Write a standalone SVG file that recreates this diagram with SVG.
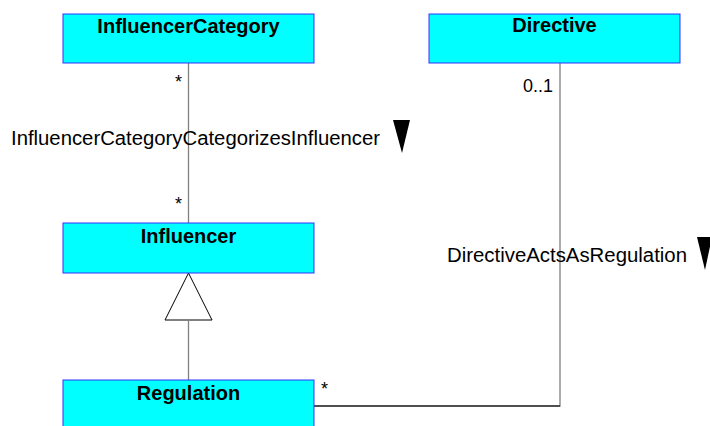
<svg xmlns="http://www.w3.org/2000/svg" width="710" height="426" viewBox="0 0 710 426">
<style>
.box{fill:#00ffff;stroke:#3333ff;stroke-width:1}
.title{font-family:"Liberation Sans",Arial,sans-serif;font-weight:bold;font-size:20px;text-anchor:middle;fill:#000}
.lbl{font-family:"Liberation Sans",Arial,sans-serif;font-size:20px;fill:#000}
.mult{font-family:"Liberation Sans",Arial,sans-serif;font-size:18px;fill:#000}
.ln{stroke:#808080;stroke-width:1.3;fill:none}
</style>
<rect width="710" height="426" fill="#fff"/>
<g id="connectors">
<line class="ln" x1="188.5" y1="63" x2="188.5" y2="223"/>
<polygon points="188.5,273 165,320 212,320" fill="#fff" stroke="#000" stroke-width="1"/>
<line class="ln" x1="188.5" y1="320" x2="188.5" y2="380"/>
<polyline class="ln" points="560,63 560,406 314,406"/>
<line x1="314" y1="406" x2="560" y2="406" stroke="#000" stroke-width="1"/>
<text class="lbl" x="11" y="145" textLength="369" lengthAdjust="spacingAndGlyphs">InfluencerCategoryCategorizesInfluencer</text>
<polygon points="393,120 410,120 402,153" fill="#000"/>
<text class="lbl" x="447" y="262" textLength="240" lengthAdjust="spacingAndGlyphs">DirectiveActsAsRegulation</text>
<polygon points="697,237 712,237 705,270" fill="#000"/>
<text class="mult" x="175" y="88">*</text>
<text class="mult" x="175" y="210">*</text>
<text class="mult" x="553" y="92" text-anchor="end" font-size="20">0..1</text>
<text class="mult" x="321" y="395">*</text>
</g>
<g id="InfluencerCategory">
<rect class="box" x="63" y="14" width="251" height="49"/>
<text class="title" x="188.5" y="33">InfluencerCategory</text>
</g>
<g id="Directive">
<rect class="box" x="429" y="14" width="251" height="49"/>
<text class="title" x="554.5" y="32">Directive</text>
</g>
<g id="Influencer">
<rect class="box" x="63" y="223" width="251" height="50"/>
<text class="title" x="188.5" y="243">Influencer</text>
</g>
<g id="Regulation">
<rect class="box" x="63" y="380" width="251" height="60"/>
<text class="title" x="188.5" y="400">Regulation</text>
</g>
</svg>
